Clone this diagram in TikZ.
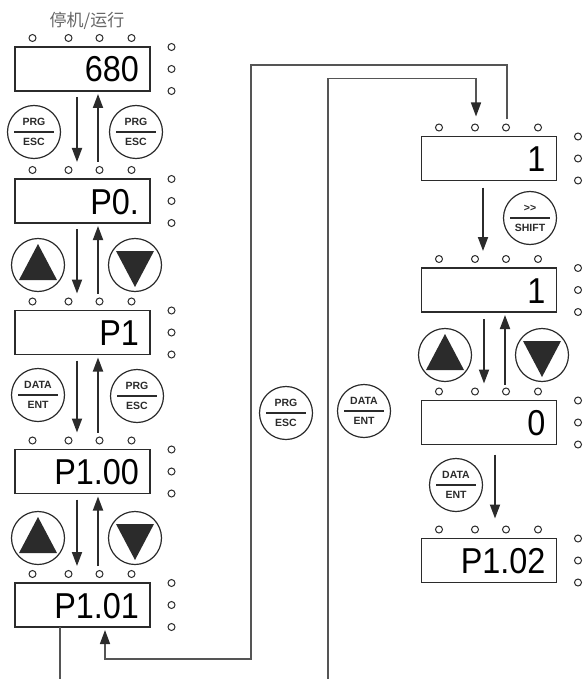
\documentclass[tikz,border=0pt]{standalone}
\usepackage{fontspec}
\setmainfont{Liberation Sans}
\newfontfamily\cjk{Noto Sans CJK SC}
\newfontfamily\segfont[FakeStretch=0.9]{Liberation Sans}
\usetikzlibrary{arrows.meta}

\definecolor{ink}{HTML}{2B2B2B}
\definecolor{wire}{HTML}{555555}

% keypad buttons
\newcommand{\fnkey}[4]{%
  \node[key] (#1) at (#2) {};
  \draw[keybar] ([xshift=-20pt]#1.center) -- ([xshift=20pt]#1.center);
  \node[keytxt] (#1-up) at ([yshift=10pt]#1.center) {#3};
  \node[keytxt] (#1-dn) at ([yshift=-10pt]#1.center) {#4};}
\newcommand{\upkey}[2]{%
  \node[key] (#1) at (#2) {};
  \fill[ink] ([shift={(0,-21)}]#1.center) -- ([shift={(19,15)}]#1.center) -- ([shift={(-19,15)}]#1.center) -- cycle;}
\newcommand{\downkey}[2]{%
  \node[key] (#1) at (#2) {};
  \fill[ink] ([shift={(0,22)}]#1.center) -- ([shift={(19,-14)}]#1.center) -- ([shift={(-19,-14)}]#1.center) -- cycle;}

\begin{document}
\begin{tikzpicture}[x=1pt,y=-1pt,
  disp/.style={draw=ink, line width=1.8pt, minimum height=44pt, text width=113pt,
    inner xsep=11pt, inner ysep=2pt, text height=26pt, text depth=0pt, align=right,
    outer sep=0pt, font=\segfont\fontsize{36}{36}\selectfont},
  led/.style={draw=ink, line width=1pt},
  key/.style={circle, draw=ink, line width=1.2pt, minimum size=53pt, inner sep=0pt},
  keybar/.style={ink, line width=1.1pt},
  keytxt/.style={font=\bfseries\fontsize{10.5}{10.5}\selectfont, text=ink, inner sep=0pt},
  move/.style={ink, line width=1.8pt, -{Triangle[length=14pt,width=10pt]}},
  link/.style={wire, line width=1.5pt}]
\useasboundingbox (0,0) rectangle (582,679);

\node[font=\cjk\fontsize{17}{17}\selectfont, text=black!60] (state) at (87,21) {停机/运行};

% left column
\node[disp] (d1) at (82.5,69) {680};
\node[disp] (d2) at (82.5,201) {P0.};
\node[disp] (d3) at (82.5,332.5) {P1};
\node[disp] (d4) at (82.5,471.5) {P1.00};
\node[disp] (d5) at (82.5,605) {P1.01};
% right column
\node[disp] (r1) at (489,158.5) {1};
\node[disp] (r2) at (489,290) {1};
\node[disp] (r3) at (489,422.5) {0};
\node[disp] (r4) at (489,560.5) {P1.02};

\foreach \d in {d1,d2,d3,d4,d5,r1,r2,r3,r4} {
  \foreach \dx in {-50,-14,17,49} \draw[led] ([shift={(\dx,-9)}]\d.north) circle (3.5);
  \foreach \dy in {-22,0,22} \draw[led] ([shift={(21.5,\dy)}]\d.east) circle (3.5);
}

\fnkey{k1}{34,132}{PRG}{ESC}
\fnkey{k2}{136,132}{PRG}{ESC}
\upkey{k3}{38,265}
\downkey{k4}{135,265}
\fnkey{k5}{38,395}{DATA}{ENT}
\fnkey{k6}{137,396}{PRG}{ESC}
\upkey{k7}{38,538}
\downkey{k8}{135,538}
\fnkey{k9}{286,413}{PRG}{ESC}
\fnkey{k10}{364,411}{DATA}{ENT}
\fnkey{k11}{530,218}{>{}>}{SHIFT}
\upkey{k12}{445,355}
\downkey{k13}{542,355}
\fnkey{k14}{456,485}{DATA}{ENT}

\foreach \a/\b in {d1/d2,d2/d3,d3/d4,d4/d5} {
  \draw[move] ([shift={(-5.5,6)}]\a.south) -- ([shift={(-5.5,-17)}]\b.north);
  \draw[move] ([shift={(15.5,-17)}]\b.north) -- ([shift={(15.5,3)}]\a.south);
}
\draw[move] ([shift={(-6,7)}]r1.south) -- ([shift={(-6,-17)}]r2.north);
\draw[move] ([shift={(-5,7)}]r2.south) -- ([shift={(-5,-17)}]r3.north);
\draw[move] ([shift={(16,-16)}]r3.north) -- ([shift={(16,3)}]r2.south);
\draw[move] ([shift={(6,10)}]r3.south) -- ([shift={(6,-20)}]r4.north);

\coordinate (back) at (251,65);
\coordinate (backlow) at (251,659);
\coordinate (entlow) at (328,679);
\coordinate (entout) at (60,679);
\draw[link, -{Triangle[length=14pt,width=10pt,color=ink]}] ([shift={(18,-17)}]r1.north) |- (back) -- (backlow) -| ([shift={(22.5,3)}]d5.south);
\draw[link] (d5.south -| entout) -- (entout);
\draw[link, -{Triangle[length=14pt,width=10pt,color=ink]}] (entlow) |- ([shift={(-13,-58)}]r1.north) -- ([shift={(-13,-20)}]r1.north);
\end{tikzpicture}
\end{document}
